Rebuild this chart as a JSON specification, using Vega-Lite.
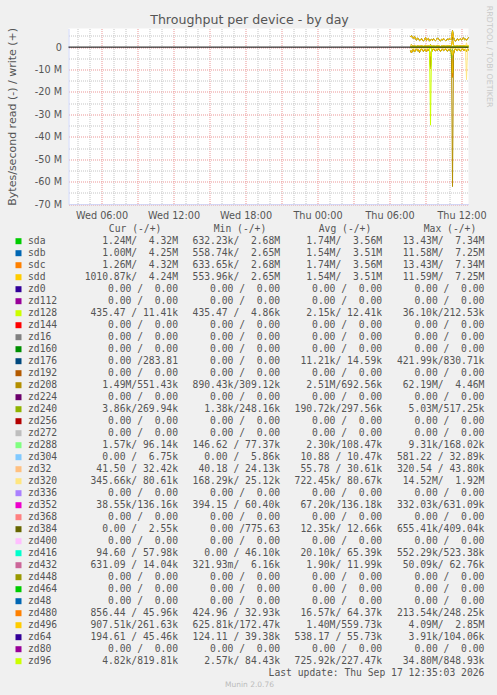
{
"$schema": "https://vega.github.io/schema/vega-lite/v6.json",
"background": "#f0f0f0",
"padding": {"left": 5.5, "top": 5.5, "right": 0, "bottom": 3},
"title": {"text": "Throughput per device - by day", "fontSize": 12.6, "font": "DejaVu Sans", "fontWeight": "normal", "color": "#555555", "anchor": "middle", "offset": 0, "dx": -3, "dy": 21},
"config": {"view": {"stroke": null}, "font": "DejaVu Sans", "axis": {"labelOverlap": false}},
"bounds": "flush",
"spacing": 18.7,
"datasets": {
"series": [
{"d":"sda","t":"2026-09-17T07:45","r":-1.8,"w":4.6},
{"d":"sda","t":"2026-09-17T07:50","r":-2.6,"w":5.1},
{"d":"sda","t":"2026-09-17T07:55","r":-1.4,"w":4.2},
{"d":"sda","t":"2026-09-17T08:00","r":-1.1,"w":3.9},
{"d":"sda","t":"2026-09-17T08:05","r":-2.2,"w":4.8},
{"d":"sda","t":"2026-09-17T08:10","r":-1.5,"w":3.5},
{"d":"sda","t":"2026-09-17T08:15","r":-0.9,"w":3.2},
{"d":"sda","t":"2026-09-17T08:20","r":-1.7,"w":4.1},
{"d":"sda","t":"2026-09-17T08:25","r":-1.3,"w":3.6},
{"d":"sda","t":"2026-09-17T08:30","r":-2.4,"w":2.9},
{"d":"sda","t":"2026-09-17T08:35","r":-1.2,"w":3.3},
{"d":"sda","t":"2026-09-17T08:40","r":-0.8,"w":3.8},
{"d":"sda","t":"2026-09-17T08:45","r":-1.6,"w":3.1},
{"d":"sda","t":"2026-09-17T08:50","r":-1.9,"w":2.8},
{"d":"sda","t":"2026-09-17T08:55","r":-1.1,"w":3.4},
{"d":"sda","t":"2026-09-17T09:00","r":-1.4,"w":4.3},
{"d":"sda","t":"2026-09-17T09:05","r":-2.1,"w":3.0},
{"d":"sda","t":"2026-09-17T09:10","r":-1.0,"w":3.6},
{"d":"sda","t":"2026-09-17T09:15","r":-1.3,"w":3.9},
{"d":"sda","t":"2026-09-17T09:20","r":-1.8,"w":2.7},
{"d":"sda","t":"2026-09-17T09:25","r":-9.5,"w":3.2},
{"d":"sda","t":"2026-09-17T09:30","r":-2.3,"w":3.5},
{"d":"sda","t":"2026-09-17T09:35","r":-1.2,"w":3.0},
{"d":"sda","t":"2026-09-17T09:40","r":-0.9,"w":3.7},
{"d":"sda","t":"2026-09-17T09:45","r":-1.5,"w":3.3},
{"d":"sda","t":"2026-09-17T09:50","r":-1.7,"w":2.9},
{"d":"sda","t":"2026-09-17T09:55","r":-1.1,"w":3.4},
{"d":"sda","t":"2026-09-17T10:00","r":-1.4,"w":4.1},
{"d":"sda","t":"2026-09-17T10:05","r":-0.7,"w":3.6},
{"d":"sda","t":"2026-09-17T10:10","r":-1.2,"w":3.0},
{"d":"sda","t":"2026-09-17T10:15","r":-1.9,"w":2.8},
{"d":"sda","t":"2026-09-17T10:20","r":-1.3,"w":3.5},
{"d":"sda","t":"2026-09-17T10:25","r":-1.0,"w":3.2},
{"d":"sda","t":"2026-09-17T10:30","r":-1.6,"w":3.9},
{"d":"sda","t":"2026-09-17T10:35","r":-1.2,"w":3.4},
{"d":"sda","t":"2026-09-17T10:40","r":-0.63,"w":2.9},
{"d":"sda","t":"2026-09-17T10:45","r":-1.4,"w":3.1},
{"d":"sda","t":"2026-09-17T10:50","r":-1.8,"w":3.6},
{"d":"sda","t":"2026-09-17T10:55","r":-1.1,"w":3.3},
{"d":"sda","t":"2026-09-17T11:00","r":-1.3,"w":4.0},
{"d":"sda","t":"2026-09-17T11:05","r":-1.5,"w":3.2},
{"d":"sda","t":"2026-09-17T11:10","r":-2.0,"w":3.8},
{"d":"sda","t":"2026-09-17T11:15","r":-13.43,"w":7.34},
{"d":"sda","t":"2026-09-17T11:20","r":-3.1,"w":4.4},
{"d":"sda","t":"2026-09-17T11:25","r":-1.2,"w":3.1},
{"d":"sda","t":"2026-09-17T11:30","r":-0.9,"w":2.68},
{"d":"sda","t":"2026-09-17T11:35","r":-1.4,"w":3.3},
{"d":"sda","t":"2026-09-17T11:40","r":-1.6,"w":3.7},
{"d":"sda","t":"2026-09-17T11:45","r":-1.0,"w":3.0},
{"d":"sda","t":"2026-09-17T11:50","r":-1.3,"w":3.4},
{"d":"sda","t":"2026-09-17T11:55","r":-1.7,"w":3.9},
{"d":"sda","t":"2026-09-17T12:00","r":-1.1,"w":3.2},
{"d":"sda","t":"2026-09-17T12:05","r":-0.8,"w":3.5},
{"d":"sda","t":"2026-09-17T12:10","r":-1.5,"w":4.2},
{"d":"sda","t":"2026-09-17T12:15","r":-1.2,"w":3.3},
{"d":"sda","t":"2026-09-17T12:20","r":-1.4,"w":3.6},
{"d":"sda","t":"2026-09-17T12:25","r":-1.9,"w":3.1},
{"d":"sda","t":"2026-09-17T12:30","r":-1.0,"w":3.8},
{"d":"sda","t":"2026-09-17T12:35","r":-1.24,"w":4.32},
{"d":"sdb","t":"2026-09-17T07:45","r":-1.6,"w":4.5},
{"d":"sdb","t":"2026-09-17T07:50","r":-2.3,"w":5.0},
{"d":"sdb","t":"2026-09-17T07:55","r":-1.2,"w":4.1},
{"d":"sdb","t":"2026-09-17T08:00","r":-1.0,"w":3.8},
{"d":"sdb","t":"2026-09-17T08:05","r":-2.0,"w":4.7},
{"d":"sdb","t":"2026-09-17T08:10","r":-1.3,"w":3.5},
{"d":"sdb","t":"2026-09-17T08:15","r":-0.8,"w":3.1},
{"d":"sdb","t":"2026-09-17T08:20","r":-1.5,"w":4.0},
{"d":"sdb","t":"2026-09-17T08:25","r":-1.2,"w":3.6},
{"d":"sdb","t":"2026-09-17T08:30","r":-2.1,"w":2.9},
{"d":"sdb","t":"2026-09-17T08:35","r":-1.1,"w":3.2},
{"d":"sdb","t":"2026-09-17T08:40","r":-0.7,"w":3.7},
{"d":"sdb","t":"2026-09-17T08:45","r":-1.4,"w":3.1},
{"d":"sdb","t":"2026-09-17T08:50","r":-1.7,"w":2.8},
{"d":"sdb","t":"2026-09-17T08:55","r":-1.0,"w":3.4},
{"d":"sdb","t":"2026-09-17T09:00","r":-1.2,"w":4.2},
{"d":"sdb","t":"2026-09-17T09:05","r":-1.9,"w":3.0},
{"d":"sdb","t":"2026-09-17T09:10","r":-0.9,"w":3.5},
{"d":"sdb","t":"2026-09-17T09:15","r":-1.2,"w":3.8},
{"d":"sdb","t":"2026-09-17T09:20","r":-1.6,"w":2.65},
{"d":"sdb","t":"2026-09-17T09:25","r":-8.6,"w":3.2},
{"d":"sdb","t":"2026-09-17T09:30","r":-2.0,"w":3.4},
{"d":"sdb","t":"2026-09-17T09:35","r":-1.1,"w":3.0},
{"d":"sdb","t":"2026-09-17T09:40","r":-0.8,"w":3.6},
{"d":"sdb","t":"2026-09-17T09:45","r":-1.3,"w":3.3},
{"d":"sdb","t":"2026-09-17T09:50","r":-1.5,"w":2.9},
{"d":"sdb","t":"2026-09-17T09:55","r":-1.0,"w":3.3},
{"d":"sdb","t":"2026-09-17T10:00","r":-1.2,"w":4.0},
{"d":"sdb","t":"2026-09-17T10:05","r":-0.6,"w":3.5},
{"d":"sdb","t":"2026-09-17T10:10","r":-1.1,"w":3.0},
{"d":"sdb","t":"2026-09-17T10:15","r":-1.7,"w":2.8},
{"d":"sdb","t":"2026-09-17T10:20","r":-1.2,"w":3.4},
{"d":"sdb","t":"2026-09-17T10:25","r":-0.9,"w":3.2},
{"d":"sdb","t":"2026-09-17T10:30","r":-1.4,"w":3.8},
{"d":"sdb","t":"2026-09-17T10:35","r":-1.1,"w":3.4},
{"d":"sdb","t":"2026-09-17T10:40","r":-0.56,"w":2.9},
{"d":"sdb","t":"2026-09-17T10:45","r":-1.2,"w":3.1},
{"d":"sdb","t":"2026-09-17T10:50","r":-1.6,"w":3.5},
{"d":"sdb","t":"2026-09-17T10:55","r":-1.0,"w":3.3},
{"d":"sdb","t":"2026-09-17T11:00","r":-1.2,"w":3.9},
{"d":"sdb","t":"2026-09-17T11:05","r":-1.3,"w":3.2},
{"d":"sdb","t":"2026-09-17T11:10","r":-1.8,"w":3.7},
{"d":"sdb","t":"2026-09-17T11:15","r":-11.59,"w":7.25},
{"d":"sdb","t":"2026-09-17T11:20","r":-2.8,"w":4.3},
{"d":"sdb","t":"2026-09-17T11:25","r":-1.1,"w":3.1},
{"d":"sdb","t":"2026-09-17T11:30","r":-0.8,"w":2.7},
{"d":"sdb","t":"2026-09-17T11:35","r":-1.3,"w":3.3},
{"d":"sdb","t":"2026-09-17T11:40","r":-1.4,"w":3.6},
{"d":"sdb","t":"2026-09-17T11:45","r":-0.9,"w":3.0},
{"d":"sdb","t":"2026-09-17T11:50","r":-1.2,"w":3.4},
{"d":"sdb","t":"2026-09-17T11:55","r":-1.5,"w":3.8},
{"d":"sdb","t":"2026-09-17T12:00","r":-1.0,"w":3.2},
{"d":"sdb","t":"2026-09-17T12:05","r":-0.7,"w":3.5},
{"d":"sdb","t":"2026-09-17T12:10","r":-1.3,"w":4.1},
{"d":"sdb","t":"2026-09-17T12:15","r":-1.1,"w":3.3},
{"d":"sdb","t":"2026-09-17T12:20","r":-1.2,"w":3.5},
{"d":"sdb","t":"2026-09-17T12:25","r":-1.7,"w":3.1},
{"d":"sdb","t":"2026-09-17T12:30","r":-0.9,"w":3.7},
{"d":"sdb","t":"2026-09-17T12:35","r":-1.0,"w":4.25},
{"d":"sdc","t":"2026-09-17T07:45","r":-1.8,"w":4.6},
{"d":"sdc","t":"2026-09-17T07:50","r":-2.6,"w":5.1},
{"d":"sdc","t":"2026-09-17T07:55","r":-1.4,"w":4.2},
{"d":"sdc","t":"2026-09-17T08:00","r":-1.1,"w":3.9},
{"d":"sdc","t":"2026-09-17T08:05","r":-2.2,"w":4.8},
{"d":"sdc","t":"2026-09-17T08:10","r":-1.5,"w":3.5},
{"d":"sdc","t":"2026-09-17T08:15","r":-0.9,"w":3.2},
{"d":"sdc","t":"2026-09-17T08:20","r":-1.7,"w":4.1},
{"d":"sdc","t":"2026-09-17T08:25","r":-1.3,"w":3.6},
{"d":"sdc","t":"2026-09-17T08:30","r":-2.4,"w":2.9},
{"d":"sdc","t":"2026-09-17T08:35","r":-1.2,"w":3.3},
{"d":"sdc","t":"2026-09-17T08:40","r":-0.8,"w":3.8},
{"d":"sdc","t":"2026-09-17T08:45","r":-1.6,"w":3.1},
{"d":"sdc","t":"2026-09-17T08:50","r":-1.9,"w":2.8},
{"d":"sdc","t":"2026-09-17T08:55","r":-1.1,"w":3.4},
{"d":"sdc","t":"2026-09-17T09:00","r":-1.4,"w":4.3},
{"d":"sdc","t":"2026-09-17T09:05","r":-2.1,"w":3.0},
{"d":"sdc","t":"2026-09-17T09:10","r":-1.0,"w":3.6},
{"d":"sdc","t":"2026-09-17T09:15","r":-1.3,"w":3.9},
{"d":"sdc","t":"2026-09-17T09:20","r":-1.8,"w":2.7},
{"d":"sdc","t":"2026-09-17T09:25","r":-9.5,"w":3.2},
{"d":"sdc","t":"2026-09-17T09:30","r":-2.3,"w":3.5},
{"d":"sdc","t":"2026-09-17T09:35","r":-1.2,"w":3.0},
{"d":"sdc","t":"2026-09-17T09:40","r":-0.9,"w":3.7},
{"d":"sdc","t":"2026-09-17T09:45","r":-1.5,"w":3.3},
{"d":"sdc","t":"2026-09-17T09:50","r":-1.7,"w":2.9},
{"d":"sdc","t":"2026-09-17T09:55","r":-1.1,"w":3.4},
{"d":"sdc","t":"2026-09-17T10:00","r":-1.4,"w":4.1},
{"d":"sdc","t":"2026-09-17T10:05","r":-0.7,"w":3.6},
{"d":"sdc","t":"2026-09-17T10:10","r":-1.2,"w":3.0},
{"d":"sdc","t":"2026-09-17T10:15","r":-1.9,"w":2.8},
{"d":"sdc","t":"2026-09-17T10:20","r":-1.3,"w":3.5},
{"d":"sdc","t":"2026-09-17T10:25","r":-1.0,"w":3.2},
{"d":"sdc","t":"2026-09-17T10:30","r":-1.6,"w":3.9},
{"d":"sdc","t":"2026-09-17T10:35","r":-1.2,"w":3.4},
{"d":"sdc","t":"2026-09-17T10:40","r":-0.63,"w":2.9},
{"d":"sdc","t":"2026-09-17T10:45","r":-1.4,"w":3.1},
{"d":"sdc","t":"2026-09-17T10:50","r":-1.8,"w":3.6},
{"d":"sdc","t":"2026-09-17T10:55","r":-1.1,"w":3.3},
{"d":"sdc","t":"2026-09-17T11:00","r":-1.3,"w":4.0},
{"d":"sdc","t":"2026-09-17T11:05","r":-1.5,"w":3.2},
{"d":"sdc","t":"2026-09-17T11:10","r":-2.0,"w":3.8},
{"d":"sdc","t":"2026-09-17T11:15","r":-13.43,"w":7.34},
{"d":"sdc","t":"2026-09-17T11:20","r":-3.1,"w":4.4},
{"d":"sdc","t":"2026-09-17T11:25","r":-1.2,"w":3.1},
{"d":"sdc","t":"2026-09-17T11:30","r":-0.9,"w":2.68},
{"d":"sdc","t":"2026-09-17T11:35","r":-1.4,"w":3.3},
{"d":"sdc","t":"2026-09-17T11:40","r":-1.6,"w":3.7},
{"d":"sdc","t":"2026-09-17T11:45","r":-1.0,"w":3.0},
{"d":"sdc","t":"2026-09-17T11:50","r":-1.3,"w":3.4},
{"d":"sdc","t":"2026-09-17T11:55","r":-1.7,"w":3.9},
{"d":"sdc","t":"2026-09-17T12:00","r":-1.1,"w":3.2},
{"d":"sdc","t":"2026-09-17T12:05","r":-0.8,"w":3.5},
{"d":"sdc","t":"2026-09-17T12:10","r":-1.5,"w":4.2},
{"d":"sdc","t":"2026-09-17T12:15","r":-1.2,"w":3.3},
{"d":"sdc","t":"2026-09-17T12:20","r":-1.4,"w":3.6},
{"d":"sdc","t":"2026-09-17T12:25","r":-1.9,"w":3.1},
{"d":"sdc","t":"2026-09-17T12:30","r":-1.0,"w":3.8},
{"d":"sdc","t":"2026-09-17T12:35","r":-1.26,"w":4.32},
{"d":"sdd","t":"2026-09-17T07:45","r":-1.6,"w":4.5},
{"d":"sdd","t":"2026-09-17T07:50","r":-2.3,"w":5.0},
{"d":"sdd","t":"2026-09-17T07:55","r":-1.2,"w":4.1},
{"d":"sdd","t":"2026-09-17T08:00","r":-1.0,"w":3.8},
{"d":"sdd","t":"2026-09-17T08:05","r":-2.0,"w":4.7},
{"d":"sdd","t":"2026-09-17T08:10","r":-1.3,"w":3.5},
{"d":"sdd","t":"2026-09-17T08:15","r":-0.8,"w":3.1},
{"d":"sdd","t":"2026-09-17T08:20","r":-1.5,"w":4.0},
{"d":"sdd","t":"2026-09-17T08:25","r":-1.2,"w":3.6},
{"d":"sdd","t":"2026-09-17T08:30","r":-2.1,"w":2.9},
{"d":"sdd","t":"2026-09-17T08:35","r":-1.1,"w":3.2},
{"d":"sdd","t":"2026-09-17T08:40","r":-0.7,"w":3.7},
{"d":"sdd","t":"2026-09-17T08:45","r":-1.4,"w":3.1},
{"d":"sdd","t":"2026-09-17T08:50","r":-1.7,"w":2.8},
{"d":"sdd","t":"2026-09-17T08:55","r":-1.0,"w":3.4},
{"d":"sdd","t":"2026-09-17T09:00","r":-1.2,"w":4.2},
{"d":"sdd","t":"2026-09-17T09:05","r":-1.9,"w":3.0},
{"d":"sdd","t":"2026-09-17T09:10","r":-0.9,"w":3.5},
{"d":"sdd","t":"2026-09-17T09:15","r":-1.2,"w":3.8},
{"d":"sdd","t":"2026-09-17T09:20","r":-1.6,"w":2.65},
{"d":"sdd","t":"2026-09-17T09:25","r":-8.6,"w":3.2},
{"d":"sdd","t":"2026-09-17T09:30","r":-2.0,"w":3.4},
{"d":"sdd","t":"2026-09-17T09:35","r":-1.1,"w":3.0},
{"d":"sdd","t":"2026-09-17T09:40","r":-0.8,"w":3.6},
{"d":"sdd","t":"2026-09-17T09:45","r":-1.3,"w":3.3},
{"d":"sdd","t":"2026-09-17T09:50","r":-1.5,"w":2.9},
{"d":"sdd","t":"2026-09-17T09:55","r":-1.0,"w":3.3},
{"d":"sdd","t":"2026-09-17T10:00","r":-1.2,"w":4.0},
{"d":"sdd","t":"2026-09-17T10:05","r":-0.6,"w":3.5},
{"d":"sdd","t":"2026-09-17T10:10","r":-1.1,"w":3.0},
{"d":"sdd","t":"2026-09-17T10:15","r":-1.7,"w":2.8},
{"d":"sdd","t":"2026-09-17T10:20","r":-1.2,"w":3.4},
{"d":"sdd","t":"2026-09-17T10:25","r":-0.9,"w":3.2},
{"d":"sdd","t":"2026-09-17T10:30","r":-1.4,"w":3.8},
{"d":"sdd","t":"2026-09-17T10:35","r":-1.1,"w":3.4},
{"d":"sdd","t":"2026-09-17T10:40","r":-0.55,"w":2.9},
{"d":"sdd","t":"2026-09-17T10:45","r":-1.2,"w":3.1},
{"d":"sdd","t":"2026-09-17T10:50","r":-1.6,"w":3.5},
{"d":"sdd","t":"2026-09-17T10:55","r":-1.0,"w":3.3},
{"d":"sdd","t":"2026-09-17T11:00","r":-1.2,"w":3.9},
{"d":"sdd","t":"2026-09-17T11:05","r":-1.3,"w":3.2},
{"d":"sdd","t":"2026-09-17T11:10","r":-1.8,"w":3.7},
{"d":"sdd","t":"2026-09-17T11:15","r":-11.59,"w":7.25},
{"d":"sdd","t":"2026-09-17T11:20","r":-2.8,"w":4.3},
{"d":"sdd","t":"2026-09-17T11:25","r":-1.1,"w":3.1},
{"d":"sdd","t":"2026-09-17T11:30","r":-0.8,"w":2.7},
{"d":"sdd","t":"2026-09-17T11:35","r":-1.3,"w":3.3},
{"d":"sdd","t":"2026-09-17T11:40","r":-1.4,"w":3.6},
{"d":"sdd","t":"2026-09-17T11:45","r":-0.9,"w":3.0},
{"d":"sdd","t":"2026-09-17T11:50","r":-1.2,"w":3.4},
{"d":"sdd","t":"2026-09-17T11:55","r":-1.5,"w":3.8},
{"d":"sdd","t":"2026-09-17T12:00","r":-1.0,"w":3.2},
{"d":"sdd","t":"2026-09-17T12:05","r":-0.7,"w":3.5},
{"d":"sdd","t":"2026-09-17T12:10","r":-1.3,"w":4.1},
{"d":"sdd","t":"2026-09-17T12:15","r":-1.1,"w":3.3},
{"d":"sdd","t":"2026-09-17T12:20","r":-1.2,"w":3.5},
{"d":"sdd","t":"2026-09-17T12:25","r":-1.7,"w":3.1},
{"d":"sdd","t":"2026-09-17T12:30","r":-0.9,"w":3.7},
{"d":"sdd","t":"2026-09-17T12:35","r":-1.01,"w":4.24},
{"d":"zd208","t":"2026-09-17T07:45","r":-1.6,"w":0.9},
{"d":"zd208","t":"2026-09-17T07:50","r":-2.2,"w":1.1},
{"d":"zd208","t":"2026-09-17T07:55","r":-1.3,"w":0.7},
{"d":"zd208","t":"2026-09-17T08:00","r":-1.0,"w":0.6},
{"d":"zd208","t":"2026-09-17T08:05","r":-1.8,"w":0.8},
{"d":"zd208","t":"2026-09-17T08:10","r":-1.4,"w":0.5},
{"d":"zd208","t":"2026-09-17T08:15","r":-0.95,"w":0.45},
{"d":"zd208","t":"2026-09-17T08:20","r":-1.5,"w":0.7},
{"d":"zd208","t":"2026-09-17T08:25","r":-1.2,"w":0.6},
{"d":"zd208","t":"2026-09-17T08:30","r":-2.0,"w":0.5},
{"d":"zd208","t":"2026-09-17T08:35","r":-1.1,"w":0.6},
{"d":"zd208","t":"2026-09-17T08:40","r":-0.9,"w":0.7},
{"d":"zd208","t":"2026-09-17T08:45","r":-1.4,"w":0.55},
{"d":"zd208","t":"2026-09-17T08:50","r":-1.7,"w":0.4},
{"d":"zd208","t":"2026-09-17T08:55","r":-1.0,"w":0.6},
{"d":"zd208","t":"2026-09-17T09:00","r":-1.3,"w":0.8},
{"d":"zd208","t":"2026-09-17T09:05","r":-1.9,"w":0.5},
{"d":"zd208","t":"2026-09-17T09:10","r":-1.0,"w":0.6},
{"d":"zd208","t":"2026-09-17T09:15","r":-1.2,"w":0.7},
{"d":"zd208","t":"2026-09-17T09:20","r":-1.5,"w":0.35},
{"d":"zd208","t":"2026-09-17T09:25","r":-8.8,"w":1.2},
{"d":"zd208","t":"2026-09-17T09:30","r":-1.9,"w":0.6},
{"d":"zd208","t":"2026-09-17T09:35","r":-1.1,"w":0.5},
{"d":"zd208","t":"2026-09-17T09:40","r":-0.9,"w":0.65},
{"d":"zd208","t":"2026-09-17T09:45","r":-1.4,"w":0.55},
{"d":"zd208","t":"2026-09-17T09:50","r":-1.6,"w":0.45},
{"d":"zd208","t":"2026-09-17T09:55","r":-1.0,"w":0.6},
{"d":"zd208","t":"2026-09-17T10:00","r":-1.3,"w":0.75},
{"d":"zd208","t":"2026-09-17T10:05","r":-0.89,"w":0.6},
{"d":"zd208","t":"2026-09-17T10:10","r":-1.1,"w":0.5},
{"d":"zd208","t":"2026-09-17T10:15","r":-1.7,"w":0.31},
{"d":"zd208","t":"2026-09-17T10:20","r":-1.2,"w":0.6},
{"d":"zd208","t":"2026-09-17T10:25","r":-1.0,"w":0.55},
{"d":"zd208","t":"2026-09-17T10:30","r":-1.5,"w":0.7},
{"d":"zd208","t":"2026-09-17T10:35","r":-1.2,"w":0.6},
{"d":"zd208","t":"2026-09-17T10:40","r":-0.9,"w":0.5},
{"d":"zd208","t":"2026-09-17T10:45","r":-1.3,"w":0.55},
{"d":"zd208","t":"2026-09-17T10:50","r":-1.6,"w":0.65},
{"d":"zd208","t":"2026-09-17T10:55","r":-1.1,"w":0.6},
{"d":"zd208","t":"2026-09-17T11:00","r":-1.2,"w":0.7},
{"d":"zd208","t":"2026-09-17T11:05","r":-1.4,"w":0.55},
{"d":"zd208","t":"2026-09-17T11:10","r":-2.4,"w":0.8},
{"d":"zd208","t":"2026-09-17T11:15","r":-62.19,"w":4.46},
{"d":"zd208","t":"2026-09-17T11:20","r":-2.6,"w":0.9},
{"d":"zd208","t":"2026-09-17T11:25","r":-1.2,"w":0.55},
{"d":"zd208","t":"2026-09-17T11:30","r":-0.95,"w":0.45},
{"d":"zd208","t":"2026-09-17T11:35","r":-1.3,"w":0.6},
{"d":"zd208","t":"2026-09-17T11:40","r":-1.5,"w":0.65},
{"d":"zd208","t":"2026-09-17T11:45","r":-1.0,"w":0.5},
{"d":"zd208","t":"2026-09-17T11:50","r":-1.2,"w":0.6},
{"d":"zd208","t":"2026-09-17T11:55","r":-1.6,"w":0.7},
{"d":"zd208","t":"2026-09-17T12:00","r":-1.1,"w":0.55},
{"d":"zd208","t":"2026-09-17T12:05","r":-0.9,"w":0.6},
{"d":"zd208","t":"2026-09-17T12:10","r":-1.4,"w":0.75},
{"d":"zd208","t":"2026-09-17T12:15","r":-1.2,"w":0.6},
{"d":"zd208","t":"2026-09-17T12:20","r":-1.3,"w":0.65},
{"d":"zd208","t":"2026-09-17T12:25","r":-1.8,"w":0.55},
{"d":"zd208","t":"2026-09-17T12:30","r":-1.0,"w":0.6},
{"d":"zd208","t":"2026-09-17T12:35","r":-1.49,"w":0.55},
{"d":"zd240","t":"2026-09-17T07:45","r":-0.01,"w":0.26},
{"d":"zd240","t":"2026-09-17T08:30","r":-0.02,"w":0.28},
{"d":"zd240","t":"2026-09-17T09:30","r":-0.01,"w":0.27},
{"d":"zd240","t":"2026-09-17T10:30","r":-0.02,"w":0.3},
{"d":"zd240","t":"2026-09-17T11:05","r":-0.05,"w":0.3},
{"d":"zd240","t":"2026-09-17T11:10","r":-5.03,"w":0.52},
{"d":"zd240","t":"2026-09-17T11:15","r":-0.3,"w":0.35},
{"d":"zd240","t":"2026-09-17T12:00","r":-0.01,"w":0.29},
{"d":"zd240","t":"2026-09-17T12:35","r":-0.004,"w":0.27},
{"d":"zd320","t":"2026-09-17T07:45","r":-0.5,"w":0.08},
{"d":"zd320","t":"2026-09-17T08:30","r":-0.4,"w":0.07},
{"d":"zd320","t":"2026-09-17T09:30","r":-0.6,"w":0.09},
{"d":"zd320","t":"2026-09-17T10:30","r":-0.3,"w":0.08},
{"d":"zd320","t":"2026-09-17T11:30","r":-0.5,"w":0.08},
{"d":"zd320","t":"2026-09-17T12:15","r":-0.4,"w":0.07},
{"d":"zd320","t":"2026-09-17T12:20","r":-0.6,"w":0.1},
{"d":"zd320","t":"2026-09-17T12:25","r":-14.52,"w":1.92},
{"d":"zd320","t":"2026-09-17T12:30","r":-0.7,"w":0.12},
{"d":"zd320","t":"2026-09-17T12:35","r":-0.35,"w":0.08},
{"d":"zd496","t":"2026-09-17T07:45","r":-1.5,"w":0.7},
{"d":"zd496","t":"2026-09-17T07:50","r":-2.1,"w":0.9},
{"d":"zd496","t":"2026-09-17T07:55","r":-1.3,"w":0.5},
{"d":"zd496","t":"2026-09-17T08:00","r":-1.0,"w":0.4},
{"d":"zd496","t":"2026-09-17T08:05","r":-1.7,"w":0.6},
{"d":"zd496","t":"2026-09-17T08:10","r":-1.2,"w":0.45},
{"d":"zd496","t":"2026-09-17T08:15","r":-0.8,"w":0.3},
{"d":"zd496","t":"2026-09-17T08:20","r":-1.4,"w":0.55},
{"d":"zd496","t":"2026-09-17T08:25","r":-1.1,"w":0.5},
{"d":"zd496","t":"2026-09-17T08:30","r":-1.9,"w":0.4},
{"d":"zd496","t":"2026-09-17T08:35","r":-1.2,"w":0.5},
{"d":"zd496","t":"2026-09-17T08:40","r":-0.9,"w":0.6},
{"d":"zd496","t":"2026-09-17T08:45","r":-1.4,"w":0.45},
{"d":"zd496","t":"2026-09-17T08:50","r":-1.6,"w":0.35},
{"d":"zd496","t":"2026-09-17T08:55","r":-1.1,"w":0.5},
{"d":"zd496","t":"2026-09-17T09:00","r":-1.3,"w":0.7},
{"d":"zd496","t":"2026-09-17T09:05","r":-1.8,"w":0.4},
{"d":"zd496","t":"2026-09-17T09:10","r":-1.0,"w":0.5},
{"d":"zd496","t":"2026-09-17T09:15","r":-1.2,"w":0.6},
{"d":"zd496","t":"2026-09-17T09:20","r":-1.5,"w":0.3},
{"d":"zd496","t":"2026-09-17T09:25","r":-4.09,"w":0.9},
{"d":"zd496","t":"2026-09-17T09:30","r":-1.8,"w":0.55},
{"d":"zd496","t":"2026-09-17T09:35","r":-1.1,"w":0.45},
{"d":"zd496","t":"2026-09-17T09:40","r":-0.9,"w":0.5},
{"d":"zd496","t":"2026-09-17T09:45","r":-1.3,"w":0.5},
{"d":"zd496","t":"2026-09-17T09:50","r":-1.5,"w":0.4},
{"d":"zd496","t":"2026-09-17T09:55","r":-1.0,"w":0.5},
{"d":"zd496","t":"2026-09-17T10:00","r":-1.3,"w":0.65},
{"d":"zd496","t":"2026-09-17T10:05","r":-0.7,"w":0.55},
{"d":"zd496","t":"2026-09-17T10:10","r":-1.1,"w":0.45},
{"d":"zd496","t":"2026-09-17T10:15","r":-1.6,"w":0.17},
{"d":"zd496","t":"2026-09-17T10:20","r":-1.2,"w":0.5},
{"d":"zd496","t":"2026-09-17T10:25","r":-1.0,"w":0.5},
{"d":"zd496","t":"2026-09-17T10:30","r":-1.5,"w":0.6},
{"d":"zd496","t":"2026-09-17T10:35","r":-1.2,"w":0.55},
{"d":"zd496","t":"2026-09-17T10:40","r":-0.63,"w":0.45},
{"d":"zd496","t":"2026-09-17T10:45","r":-1.3,"w":0.5},
{"d":"zd496","t":"2026-09-17T10:50","r":-1.6,"w":0.6},
{"d":"zd496","t":"2026-09-17T10:55","r":-1.1,"w":0.55},
{"d":"zd496","t":"2026-09-17T11:00","r":-1.3,"w":0.6},
{"d":"zd496","t":"2026-09-17T11:05","r":-1.4,"w":0.5},
{"d":"zd496","t":"2026-09-17T11:10","r":-1.7,"w":0.7},
{"d":"zd496","t":"2026-09-17T11:15","r":-3.6,"w":2.85},
{"d":"zd496","t":"2026-09-17T11:20","r":-2.0,"w":0.8},
{"d":"zd496","t":"2026-09-17T11:25","r":-1.2,"w":0.5},
{"d":"zd496","t":"2026-09-17T11:30","r":-0.9,"w":0.4},
{"d":"zd496","t":"2026-09-17T11:35","r":-1.3,"w":0.55},
{"d":"zd496","t":"2026-09-17T11:40","r":-1.5,"w":0.6},
{"d":"zd496","t":"2026-09-17T11:45","r":-1.0,"w":0.45},
{"d":"zd496","t":"2026-09-17T11:50","r":-1.2,"w":0.55},
{"d":"zd496","t":"2026-09-17T11:55","r":-1.6,"w":0.65},
{"d":"zd496","t":"2026-09-17T12:00","r":-1.1,"w":0.5},
{"d":"zd496","t":"2026-09-17T12:05","r":-0.8,"w":0.55},
{"d":"zd496","t":"2026-09-17T12:10","r":-1.4,"w":0.7},
{"d":"zd496","t":"2026-09-17T12:15","r":-1.2,"w":0.55},
{"d":"zd496","t":"2026-09-17T12:20","r":-1.3,"w":0.6},
{"d":"zd496","t":"2026-09-17T12:25","r":-1.7,"w":0.5},
{"d":"zd496","t":"2026-09-17T12:30","r":-1.0,"w":0.55},
{"d":"zd496","t":"2026-09-17T12:35","r":-0.91,"w":0.26},
{"d":"zd96","t":"2026-09-17T07:45","r":-0.005,"w":0.2},
{"d":"zd96","t":"2026-09-17T08:30","r":-0.003,"w":0.15},
{"d":"zd96","t":"2026-09-17T09:20","r":-0.01,"w":0.2},
{"d":"zd96","t":"2026-09-17T09:25","r":-34.8,"w":0.85},
{"d":"zd96","t":"2026-09-17T09:30","r":-0.02,"w":0.25},
{"d":"zd96","t":"2026-09-17T10:30","r":-0.004,"w":0.1},
{"d":"zd96","t":"2026-09-17T11:30","r":-0.005,"w":0.2},
{"d":"zd96","t":"2026-09-17T12:30","r":-0.004,"w":0.3},
{"d":"zd96","t":"2026-09-17T12:35","r":-0.005,"w":0.82}
],
"legend": [
{"d":"sda","c":"1.24M/\u00a0\u00a04.32M","mi":"632.23k/\u00a0\u00a02.68M","a":"1.74M/\u00a0\u00a03.56M","mx":"13.43M/\u00a0\u00a07.34M"},
{"d":"sdb","c":"1.00M/\u00a0\u00a04.25M","mi":"558.74k/\u00a0\u00a02.65M","a":"1.54M/\u00a0\u00a03.51M","mx":"11.58M/\u00a0\u00a07.25M"},
{"d":"sdc","c":"1.26M/\u00a0\u00a04.32M","mi":"633.65k/\u00a0\u00a02.68M","a":"1.74M/\u00a0\u00a03.56M","mx":"13.43M/\u00a0\u00a07.34M"},
{"d":"sdd","c":"1010.87k/\u00a0\u00a04.24M","mi":"553.96k/\u00a0\u00a02.65M","a":"1.54M/\u00a0\u00a03.51M","mx":"11.59M/\u00a0\u00a07.25M"},
{"d":"zd0","c":"0.00\u00a0/\u00a0\u00a00.00\u00a0","mi":"0.00\u00a0/\u00a0\u00a00.00\u00a0","a":"0.00\u00a0/\u00a0\u00a00.00\u00a0","mx":"0.00\u00a0/\u00a0\u00a00.00\u00a0"},
{"d":"zd112","c":"0.00\u00a0/\u00a0\u00a00.00\u00a0","mi":"0.00\u00a0/\u00a0\u00a00.00\u00a0","a":"0.00\u00a0/\u00a0\u00a00.00\u00a0","mx":"0.00\u00a0/\u00a0\u00a00.00\u00a0"},
{"d":"zd128","c":"435.47\u00a0/\u00a011.41k","mi":"435.47\u00a0/\u00a0\u00a04.86k","a":"2.15k/\u00a012.41k","mx":"36.10k/212.53k"},
{"d":"zd144","c":"0.00\u00a0/\u00a0\u00a00.00\u00a0","mi":"0.00\u00a0/\u00a0\u00a00.00\u00a0","a":"0.00\u00a0/\u00a0\u00a00.00\u00a0","mx":"0.00\u00a0/\u00a0\u00a00.00\u00a0"},
{"d":"zd16","c":"0.00\u00a0/\u00a0\u00a00.00\u00a0","mi":"0.00\u00a0/\u00a0\u00a00.00\u00a0","a":"0.00\u00a0/\u00a0\u00a00.00\u00a0","mx":"0.00\u00a0/\u00a0\u00a00.00\u00a0"},
{"d":"zd160","c":"0.00\u00a0/\u00a0\u00a00.00\u00a0","mi":"0.00\u00a0/\u00a0\u00a00.00\u00a0","a":"0.00\u00a0/\u00a0\u00a00.00\u00a0","mx":"0.00\u00a0/\u00a0\u00a00.00\u00a0"},
{"d":"zd176","c":"0.00\u00a0/283.81\u00a0","mi":"0.00\u00a0/\u00a0\u00a00.00\u00a0","a":"11.21k/\u00a014.59k","mx":"421.99k/830.71k"},
{"d":"zd192","c":"0.00\u00a0/\u00a0\u00a00.00\u00a0","mi":"0.00\u00a0/\u00a0\u00a00.00\u00a0","a":"0.00\u00a0/\u00a0\u00a00.00\u00a0","mx":"0.00\u00a0/\u00a0\u00a00.00\u00a0"},
{"d":"zd208","c":"1.49M/551.43k","mi":"890.43k/309.12k","a":"2.51M/692.56k","mx":"62.19M/\u00a0\u00a04.46M"},
{"d":"zd224","c":"0.00\u00a0/\u00a0\u00a00.00\u00a0","mi":"0.00\u00a0/\u00a0\u00a00.00\u00a0","a":"0.00\u00a0/\u00a0\u00a00.00\u00a0","mx":"0.00\u00a0/\u00a0\u00a00.00\u00a0"},
{"d":"zd240","c":"3.86k/269.94k","mi":"1.38k/248.16k","a":"190.72k/297.56k","mx":"5.03M/517.25k"},
{"d":"zd256","c":"0.00\u00a0/\u00a0\u00a00.00\u00a0","mi":"0.00\u00a0/\u00a0\u00a00.00\u00a0","a":"0.00\u00a0/\u00a0\u00a00.00\u00a0","mx":"0.00\u00a0/\u00a0\u00a00.00\u00a0"},
{"d":"zd272","c":"0.00\u00a0/\u00a0\u00a00.00\u00a0","mi":"0.00\u00a0/\u00a0\u00a00.00\u00a0","a":"0.00\u00a0/\u00a0\u00a00.00\u00a0","mx":"0.00\u00a0/\u00a0\u00a00.00\u00a0"},
{"d":"zd288","c":"1.57k/\u00a096.14k","mi":"146.62\u00a0/\u00a077.37k","a":"2.30k/108.47k","mx":"9.31k/168.02k"},
{"d":"zd304","c":"0.00\u00a0/\u00a0\u00a06.75k","mi":"0.00\u00a0/\u00a0\u00a05.86k","a":"10.88\u00a0/\u00a010.47k","mx":"581.22\u00a0/\u00a032.89k"},
{"d":"zd32","c":"41.50\u00a0/\u00a032.42k","mi":"40.18\u00a0/\u00a024.13k","a":"55.78\u00a0/\u00a030.61k","mx":"320.54\u00a0/\u00a043.80k"},
{"d":"zd320","c":"345.66k/\u00a080.61k","mi":"168.29k/\u00a025.12k","a":"722.45k/\u00a080.67k","mx":"14.52M/\u00a0\u00a01.92M"},
{"d":"zd336","c":"0.00\u00a0/\u00a0\u00a00.00\u00a0","mi":"0.00\u00a0/\u00a0\u00a00.00\u00a0","a":"0.00\u00a0/\u00a0\u00a00.00\u00a0","mx":"0.00\u00a0/\u00a0\u00a00.00\u00a0"},
{"d":"zd352","c":"38.55k/136.16k","mi":"394.15\u00a0/\u00a060.40k","a":"67.20k/136.18k","mx":"332.03k/631.09k"},
{"d":"zd368","c":"0.00\u00a0/\u00a0\u00a00.00\u00a0","mi":"0.00\u00a0/\u00a0\u00a00.00\u00a0","a":"0.00\u00a0/\u00a0\u00a00.00\u00a0","mx":"0.00\u00a0/\u00a0\u00a00.00\u00a0"},
{"d":"zd384","c":"0.00\u00a0/\u00a0\u00a02.55k","mi":"0.00\u00a0/775.63\u00a0","a":"12.35k/\u00a012.66k","mx":"655.41k/409.04k"},
{"d":"zd400","c":"0.00\u00a0/\u00a0\u00a00.00\u00a0","mi":"0.00\u00a0/\u00a0\u00a00.00\u00a0","a":"0.00\u00a0/\u00a0\u00a00.00\u00a0","mx":"0.00\u00a0/\u00a0\u00a00.00\u00a0"},
{"d":"zd416","c":"94.60\u00a0/\u00a057.98k","mi":"0.00\u00a0/\u00a046.10k","a":"20.10k/\u00a065.39k","mx":"552.29k/523.38k"},
{"d":"zd432","c":"631.09\u00a0/\u00a014.04k","mi":"321.93m/\u00a0\u00a06.16k","a":"1.90k/\u00a011.99k","mx":"50.09k/\u00a062.76k"},
{"d":"zd448","c":"0.00\u00a0/\u00a0\u00a00.00\u00a0","mi":"0.00\u00a0/\u00a0\u00a00.00\u00a0","a":"0.00\u00a0/\u00a0\u00a00.00\u00a0","mx":"0.00\u00a0/\u00a0\u00a00.00\u00a0"},
{"d":"zd464","c":"0.00\u00a0/\u00a0\u00a00.00\u00a0","mi":"0.00\u00a0/\u00a0\u00a00.00\u00a0","a":"0.00\u00a0/\u00a0\u00a00.00\u00a0","mx":"0.00\u00a0/\u00a0\u00a00.00\u00a0"},
{"d":"zd48","c":"0.00\u00a0/\u00a0\u00a00.00\u00a0","mi":"0.00\u00a0/\u00a0\u00a00.00\u00a0","a":"0.00\u00a0/\u00a0\u00a00.00\u00a0","mx":"0.00\u00a0/\u00a0\u00a00.00\u00a0"},
{"d":"zd480","c":"856.44\u00a0/\u00a045.96k","mi":"424.96\u00a0/\u00a032.93k","a":"16.57k/\u00a064.37k","mx":"213.54k/248.25k"},
{"d":"zd496","c":"907.51k/261.63k","mi":"625.81k/172.47k","a":"1.40M/559.73k","mx":"4.09M/\u00a0\u00a02.85M"},
{"d":"zd64","c":"194.61\u00a0/\u00a045.46k","mi":"124.11\u00a0/\u00a039.38k","a":"538.17\u00a0/\u00a055.73k","mx":"3.91k/104.06k"},
{"d":"zd80","c":"0.00\u00a0/\u00a0\u00a00.00\u00a0","mi":"0.00\u00a0/\u00a0\u00a00.00\u00a0","a":"0.00\u00a0/\u00a0\u00a00.00\u00a0","mx":"0.00\u00a0/\u00a0\u00a00.00\u00a0"},
{"d":"zd96","c":"4.82k/819.81k","mi":"2.57k/\u00a084.43k","a":"725.92k/227.47k","mx":"34.80M/848.93k"}
]
},
"vconcat": [
{
"width": 400,
"height": 175.6,
"view": {"fill": "white", "stroke": null},
"data": {"name": "series"},
"layer": [
{
"mark": {"type": "line", "strokeWidth": 1},
"encoding": {
"x": {"field": "t", "type": "temporal",
"scale": {"domain": [{"year": 2026, "month": 9, "date": 16, "hours": 3, "minutes": 15}, {"year": 2026, "month": 9, "date": 17, "hours": 12, "minutes": 35}], "nice": false},
"axis": {"title": null, "tickCount": 100,
"values": [
{"year": 2026, "month": 9, "date": 16, "hours": 4}, {"year": 2026, "month": 9, "date": 16, "hours": 5}, {"year": 2026, "month": 9, "date": 16, "hours": 6}, {"year": 2026, "month": 9, "date": 16, "hours": 7},
{"year": 2026, "month": 9, "date": 16, "hours": 8}, {"year": 2026, "month": 9, "date": 16, "hours": 9}, {"year": 2026, "month": 9, "date": 16, "hours": 10}, {"year": 2026, "month": 9, "date": 16, "hours": 11},
{"year": 2026, "month": 9, "date": 16, "hours": 12}, {"year": 2026, "month": 9, "date": 16, "hours": 13}, {"year": 2026, "month": 9, "date": 16, "hours": 14}, {"year": 2026, "month": 9, "date": 16, "hours": 15},
{"year": 2026, "month": 9, "date": 16, "hours": 16}, {"year": 2026, "month": 9, "date": 16, "hours": 17}, {"year": 2026, "month": 9, "date": 16, "hours": 18}, {"year": 2026, "month": 9, "date": 16, "hours": 19},
{"year": 2026, "month": 9, "date": 16, "hours": 20}, {"year": 2026, "month": 9, "date": 16, "hours": 21}, {"year": 2026, "month": 9, "date": 16, "hours": 22}, {"year": 2026, "month": 9, "date": 16, "hours": 23},
{"year": 2026, "month": 9, "date": 17, "hours": 0}, {"year": 2026, "month": 9, "date": 17, "hours": 1}, {"year": 2026, "month": 9, "date": 17, "hours": 2}, {"year": 2026, "month": 9, "date": 17, "hours": 3},
{"year": 2026, "month": 9, "date": 17, "hours": 4}, {"year": 2026, "month": 9, "date": 17, "hours": 5}, {"year": 2026, "month": 9, "date": 17, "hours": 6}, {"year": 2026, "month": 9, "date": 17, "hours": 7},
{"year": 2026, "month": 9, "date": 17, "hours": 8}, {"year": 2026, "month": 9, "date": 17, "hours": 9}, {"year": 2026, "month": 9, "date": 17, "hours": 10}, {"year": 2026, "month": 9, "date": 17, "hours": 11},
{"year": 2026, "month": 9, "date": 17, "hours": 12}],
"labelExpr": "hours(datum.value) % 6 === 0 ? timeFormat(datum.value, '%a %H:%M') : ''",
"labelOverlap": false, "labelFlush": false, "labelFontSize": 9.7, "labelColor": "#555555", "labelFont": "DejaVu Sans", "labelPadding": 6,
"ticks": false, "grid": true, "gridDash": [1, 1], "gridOpacity": 1,
"gridColor": {"condition": {"test": "hours(datum.value) % 3 === 0", "value": "#eb9595"}, "value": "#c4c4c4"},
"domainColor": "#cfd6f8"}},
"y": {"field": "r", "type": "quantitative",
"scale": {"domain": [-70, 8.3], "nice": false, "zero": false},
"axis": {"title": "Bytes/second read (-) / write (+)", "titleFontSize": 11, "titleFontWeight": "normal", "titleColor": "#555555", "titleFont": "DejaVu Sans", "titleX": -56, "titleY": 87.8, "titleBaseline": "middle",
"tickCount": 100,
"values": [-70, -65, -60, -55, -50, -45, -40, -35, -30, -25, -20, -15, -10, -5, 0, 5],
"labelExpr": "datum.value % 10 === 0 ? (datum.value === 0 ? '0\u00a0\u00a0' : datum.value + ' M') : ''",
"labelOverlap": false, "labelFontSize": 9.7, "labelColor": "#555555", "labelFont": "DejaVu Sans", "labelPadding": 7, "ticks": false,
"grid": true, "gridDash": [1, 1], "gridOpacity": 1,
"gridColor": {"condition": {"test": "datum.value % 10 === 0", "value": "#eb9595"}, "value": "#c4c4c4"},
"domainColor": "#cfd6f8"}},
"color": {"field": "d", "type": "nominal", "legend": null,
"scale": {"domain": ["sda","sdb","sdc","sdd","zd0","zd112","zd128","zd144","zd16","zd160","zd176","zd192","zd208","zd224","zd240","zd256","zd272","zd288","zd304","zd32","zd320","zd336","zd352","zd368","zd384","zd400","zd416","zd432","zd448","zd464","zd48","zd480","zd496","zd64","zd80","zd96"],
"range": ["#00CC00","#0066B3","#FF8000","#FFCC00","#330099","#990099","#CCFF00","#FF0000","#808080","#008F00","#00487D","#B35A00","#B38F00","#6B006B","#8FB300","#B30000","#BEBEBE","#80FF80","#80C9FF","#FFC080","#FFE680","#AA80FF","#EE00CC","#FF8080","#666600","#FFBFFF","#00FFCC","#CC6699","#999900","#00CC00","#0066B3","#FF8000","#FFCC00","#330099","#990099","#CCFF00"]}}
}
},
{
"mark": {"type": "line", "strokeWidth": 1},
"encoding": {
"x": {"field": "t", "type": "temporal"},
"y": {"field": "w", "type": "quantitative"},
"color": {"field": "d", "type": "nominal", "legend": null}
}
},
{
"data": {"values": [{}]},
"mark": {"type": "rule", "color": "black", "strokeWidth": 1},
"encoding": {"y": {"datum": 0, "type": "quantitative"}}
},
{
"data": {"values": [{"s": "RRDTOOL / TOBI OETIKER"}]},
"mark": {"type": "text", "angle": 90, "align": "left", "baseline": "middle", "font": "DejaVu Sans", "fontSize": 7.9, "color": "#c8c8c8"},
"encoding": {
"x": {"datum": {"year": 2026, "month": 9, "date": 17, "hours": 14, "minutes": 15}, "type": "temporal"},
"y": {"datum": 18.4, "type": "quantitative"},
"text": {"field": "s"}
}
}
]
},
{
"width": 430,
"height": 468,
"data": {"name": "legend"},
"encoding": {
"y": {"field": "d", "type": "nominal", "axis": null,
"scale": {"type": "point", "padding": 0.5, "domain": ["hdr","sda","sdb","sdc","sdd","zd0","zd112","zd128","zd144","zd16","zd160","zd176","zd192","zd208","zd224","zd240","zd256","zd272","zd288","zd304","zd32","zd320","zd336","zd352","zd368","zd384","zd400","zd416","zd432","zd448","zd464","zd48","zd480","zd496","zd64","zd80","zd96","upd","munin"]}}
},
"layer": [
{
"mark": {"type": "point", "shape": "square", "filled": true, "size": 36, "opacity": 1, "strokeWidth": 0},
"encoding": {
"x": {"datum": -50, "type": "quantitative", "scale": {"domain": [0, 430], "nice": false, "zero": false}, "axis": null},
"color": {"field": "d", "type": "nominal", "legend": null}
}
},
{
"mark": {"type": "text", "align": "left", "baseline": "middle", "font": "DejaVu Sans Mono", "fontSize": 9.7, "color": "#555555"},
"encoding": {"x": {"datum": -40.5, "type": "quantitative"}, "text": {"field": "d"}}
},
{
"mark": {"type": "text", "align": "right", "baseline": "middle", "font": "DejaVu Sans Mono", "fontSize": 9.7, "color": "#555555"},
"encoding": {"x": {"datum": 109.5, "type": "quantitative"}, "text": {"field": "c"}}
},
{
"mark": {"type": "text", "align": "right", "baseline": "middle", "font": "DejaVu Sans Mono", "fontSize": 9.7, "color": "#555555"},
"encoding": {"x": {"datum": 211.6, "type": "quantitative"}, "text": {"field": "mi"}}
},
{
"mark": {"type": "text", "align": "right", "baseline": "middle", "font": "DejaVu Sans Mono", "fontSize": 9.7, "color": "#555555"},
"encoding": {"x": {"datum": 313.6, "type": "quantitative"}, "text": {"field": "a"}}
},
{
"mark": {"type": "text", "align": "right", "baseline": "middle", "font": "DejaVu Sans Mono", "fontSize": 9.7, "color": "#555555"},
"encoding": {"x": {"datum": 415.9, "type": "quantitative"}, "text": {"field": "mx"}}
},
{
"data": {"values": [{"h": "Cur (-/+)\u00a0\u00a0\u00a0\u00a0\u00a0\u00a0\u00a0\u00a0\u00a0Min (-/+)\u00a0\u00a0\u00a0\u00a0\u00a0\u00a0\u00a0\u00a0\u00a0Avg (-/+)\u00a0\u00a0\u00a0\u00a0\u00a0\u00a0\u00a0\u00a0\u00a0Max (-/+)"}]},
"mark": {"type": "text", "align": "left", "baseline": "middle", "font": "DejaVu Sans Mono", "fontSize": 9.7, "color": "#555555"},
"encoding": {"x": {"datum": 40.3, "type": "quantitative"}, "y": {"datum": "hdr"}, "text": {"field": "h"}}
},
{
"data": {"values": [{"h": "Last update: Thu Sep 17 12:35:03 2026"}]},
"mark": {"type": "text", "align": "right", "baseline": "middle", "font": "DejaVu Sans Mono", "fontSize": 9.7, "color": "#555555"},
"encoding": {"x": {"datum": 415.9, "type": "quantitative"}, "y": {"datum": "upd"}, "text": {"field": "h"}}
},
{
"data": {"values": [{"h": "Munin 2.0.76"}]},
"mark": {"type": "text", "align": "center", "baseline": "middle", "font": "DejaVu Sans", "fontSize": 7.5, "color": "#bbbbbb"},
"encoding": {"x": {"datum": 181, "type": "quantitative"}, "y": {"datum": "munin"}, "text": {"field": "h"}}
}
]
}
]
}
